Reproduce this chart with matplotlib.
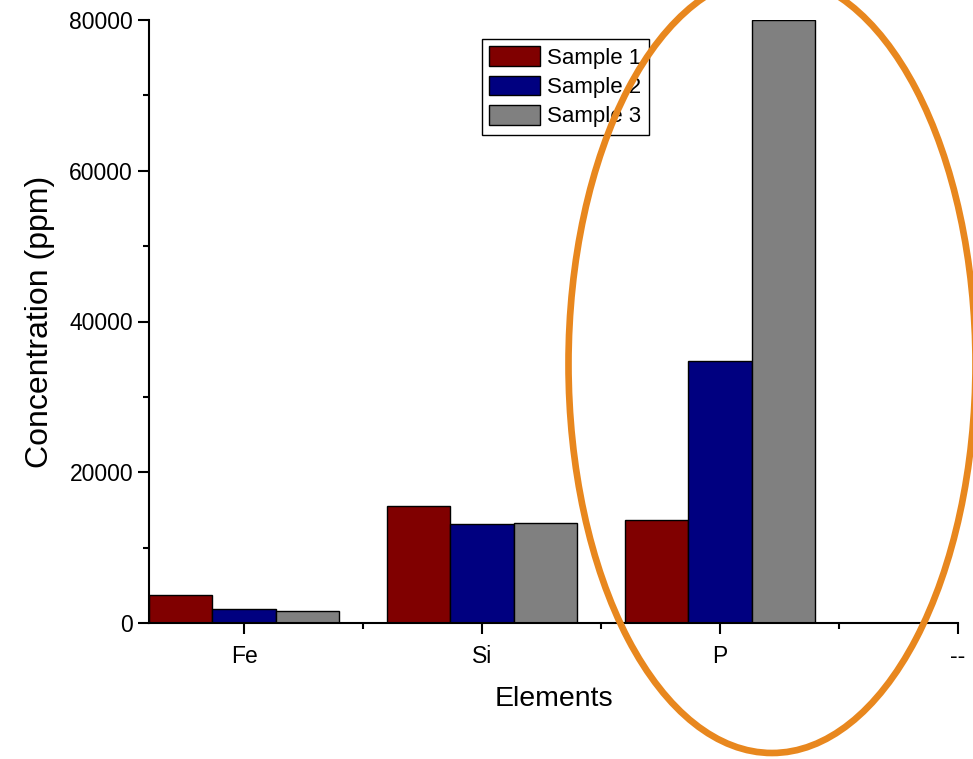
import numpy as np
import matplotlib.pyplot as plt
from matplotlib.patches import Ellipse
from matplotlib.ticker import MultipleLocator

plt.rcParams['font.family'] = ['Liberation Sans', 'DejaVu Sans']

# datos
elements = ["Fe", "Si", "P"]
tick_labels = ["Fe", "Si", "P", "--"]
sample1 = [3750, 15500, 13650]
sample2 = [1900, 13150, 34750]
sample3 = [1550, 13250, 80000]
series_names = ["Sample 1", "Sample 2", "Sample 3"]
colors = ["#800000", "#000080", "#808080"]

fig = plt.figure(figsize=(9.73, 7.59), dpi=100)
ax = fig.add_axes([149 / 973, 1 - 623 / 759, 809 / 973, 603 / 759])

x = np.arange(1, len(elements) + 1)
w = 0.8 / 3
for i, (vals, name, c) in enumerate(zip([sample1, sample2, sample3], series_names, colors)):
    ax.bar(x + (i - 1) * w, vals, width=w, color=c, edgecolor="black",
           linewidth=1.0, label=name)

ax.set_xlim(0.6, 4.0)
ax.set_ylim(0, 80000)
ax.set_xticks(np.arange(1, len(tick_labels) + 1))
ax.set_xticklabels(tick_labels)
ax.xaxis.set_minor_locator(MultipleLocator(1, offset=0.5))
ax.yaxis.set_major_locator(MultipleLocator(20000))
ax.yaxis.set_minor_locator(MultipleLocator(10000))

for s in ["top", "right"]:
    ax.spines[s].set_visible(False)
for s in ["left", "bottom"]:
    ax.spines[s].set_linewidth(1.5)

ax.tick_params(axis="both", which="major", direction="out", length=8, width=1.5,
               labelsize=16.5, colors="black")
ax.tick_params(axis="both", which="minor", direction="out", length=4, width=1.5)
ax.tick_params(axis="x", which="major", pad=8)

ax.set_xlabel("Elements", fontsize=20.5, labelpad=13)
ax.set_ylabel("Concentration (ppm)", fontsize=23, labelpad=10)

leg = ax.legend(loc="upper left", bbox_to_anchor=(0.4116, 0.9685), borderaxespad=0,
                fontsize=16, fancybox=False, edgecolor="black", framealpha=1,
                handlelength=2.3, handleheight=1.0, labelspacing=0.3,
                handletextpad=0.3, borderpad=0.33)
leg.get_frame().set_linewidth(1.0)

# anotacion (elipse naranja), encima de todo
el = Ellipse((772 / 973, 1 - 364 / 759), 407 / 973, 778 / 759,
             transform=fig.transFigure, fill=False, edgecolor="#E8871E",
             linewidth=4.8, clip_on=False, zorder=10)
fig.add_artist(el)

fig.savefig("out.png", dpi=100)
